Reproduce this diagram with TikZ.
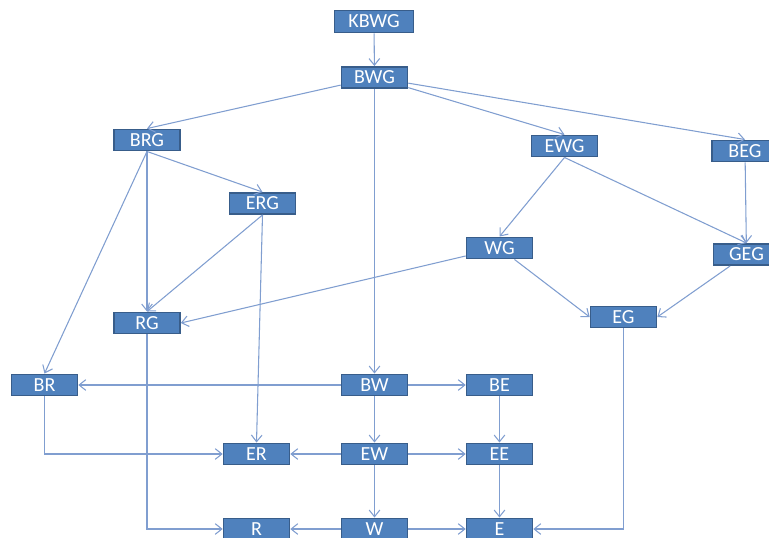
\documentclass[tikz,border=0pt]{standalone}
\usepackage{fontspec}
\setmainfont{Carlito}
\usetikzlibrary{arrows.meta}
\definecolor{boxfill}{RGB}{79,129,189}
\definecolor{boxedge}{RGB}{56,93,138}
\definecolor{linkcol}{RGB}{128,158,208}
\tikzset{>={Straight Barb[length=5pt,width=8pt]}}
\tikzset{
  state/.style = {draw=boxedge, line width=1.2pt, fill=boxfill, text=white,
    font=\fontsize{15}{15}\selectfont,
    minimum width=49.5pt, minimum height=16pt, inner sep=0pt},
  link/.style = {->, draw=linkcol, line width=0.8pt}
}

\begin{document}
\begin{tikzpicture}[x=0.75pt,y=-0.75pt]
  \useasboundingbox (0,0) rectangle (769,537);
  % top of the lattice
  \node[state,minimum width=59pt,minimum height=16.5pt] (kbwg) at (374,21.5) {KBWG};
  \node[state] (bwg) at (374.5,77.5) {BWG};
  \node[state] (brg) at (147,140) {BRG};
  \node[state] (erg) at (262.5,203.5) {ERG};
  \node[state] (ewg) at (564.5,146) {EWG};
  \node[state] (beg) at (745,151) {BEG};
  \node[state] (wg) at (499.5,248) {WG};
  \node[state] (geg) at (746.5,254.5) {GEG};
  \node[state] (rg) at (147,323) {RG};
  \node[state] (eg) at (623.5,317) {EG};
  % lower grid
  \node[state] (br) at (44.5,385) {BR};
  \node[state] (bw) at (374.5,385) {BW};
  \node[state] (be) at (499.5,385) {BE};
  \node[state] (er) at (256.5,454) {ER};
  \node[state] (ew) at (374.5,454) {EW};
  \node[state] (ee) at (499.5,454) {EE};
  \node[state] (r) at (256.5,529) {R};
  \node[state] (w) at (374.5,529) {W};
  \node[state] (e) at (499.5,529) {E};

  \draw[link] (kbwg) -- (bwg);
  \draw[link] (bwg) -- (brg.north);
  \draw[link] (bwg) -- (ewg.north);
  \draw[link] (bwg) -- (beg.north);
  \draw[link] (bwg) -- (bw);
  \draw[link] (brg.south) -- (erg.north);
  \draw[link] (brg.south) -- (rg.north);
  \draw[link] (brg.south) -- (br.north);
  \draw[link] (erg.south) -- (rg.north);
  \draw[link] (erg.south) -- (er.north);
  \draw[link] (ewg.south) -- (wg.north);
  \draw[link] (ewg.south) -- (geg.north);
  \draw[link] (beg) -- (geg);
  \draw[link] (wg) -- (rg.east);
  \draw[link] (wg) -- (eg.west);
  \draw[link] (geg) -- (eg.east);
  \draw[link] (eg.south) |- (e.east);
  \draw[link] (rg.south) |- (r.west);
  \draw[link] (br.south) |- (er.west);
  \draw[link] (bw) -- (br);
  \draw[link] (bw) -- (be);
  \draw[link] (bw) -- (ew);
  \draw[link] (be) -- (ee);
  \draw[link] (ew) -- (er);
  \draw[link] (ew) -- (ee);
  \draw[link] (ew) -- (w);
  \draw[link] (ee) -- (e);
  \draw[link] (w) -- (r);
  \draw[link] (w) -- (e);
\end{tikzpicture}
\end{document}
